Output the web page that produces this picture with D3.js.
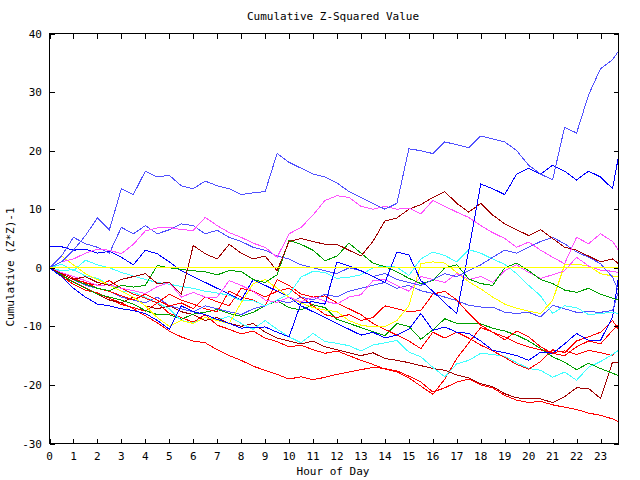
<!DOCTYPE html>
<html>
<head>
<meta charset="utf-8">
<script src="https://cdn.jsdelivr.net/npm/d3@7"></script>
<style>
  body { margin: 0; background: #fff; }
  svg { display: block; }
  text { font-family: "DejaVu Sans Mono", monospace; font-size: 11px; fill: #000; }
</style>
</head>
<body>
<svg id="plot" width="640" height="480"></svg>
<script>
// hour of day, half hour steps, last sample at 23:45
const hours = [0, 0.5, 1, 1.5, 2, 2.5, 3, 3.5, 4, 4.5, 5, 5.5, 6, 6.5, 7, 7.5, 8, 8.5, 9, 9.5,
  10, 10.5, 11, 11.5, 12, 12.5, 13, 13.5, 14, 14.5, 15, 15.5, 16, 16.5, 17, 17.5, 18, 18.5, 19, 19.5,
  20, 20.5, 21, 21.5, 22, 22.5, 23, 23.5, 23.75];

const xTicks = d3.range(0, 24);
const yTicks = [-30, -20, -10, 0, 10, 20, 30, 40];

// cumulative (z*z)-1 per station
const lbTop = [0, 1, 3, 5.5, 8.5, 6.5, 13.5, 12.5, 16.5, 15.5, 15.8, 14, 13.5, 14.8, 14, 13.5, 12.5, 12.8, 13, 19.5,
  18, 17, 16, 15.5, 14.5, 13, 12, 11, 10, 11, 20.3, 20, 19.5, 21.5, 21, 20.5, 22.5, 22, 21.5, 20,
  17.5, 16, 15, 24, 23, 29.5, 34, 35.5, 37];
const lbMid = [0, 2, 5.2, 4.1, 3.5, 2.5, 6.9, 5.8, 7.2, 5.8, 6.5, 7.5, 7.2, 5.8, 6.4, 5.2, 4.5, 3.5, 3, 2,
  1.5, 0.5, 0, -0.5, -1, 0, -0.5, -1.5, -1, -2, -2.5, -3, -2, -1, -1.5, -0.5, 0.5, 1.8, 3, 2.5,
  3.5, 4.5, 5.2, 4.1, 2.7, 1.8, 0.7, -1.6, -4];
const lbLow = [0, -1, -2, -3, -3.5, -4, -5, -5.5, -6, -5, -6.5, -7, -7.5, -6.5, -7, -7.5, -8, -7, -6.5, -5.5,
  -6, -5, -5.5, -4.5, -5, -4, -3.5, -3, -2.5, -3.5, -3, -3.9, -4.4, -5, -5.6, -6.4, -6.7, -6.7, -7.6, -7.8,
  -7.6, -8.4, -6.4, -7, -7.6, -7.5, -7.6, -7.3, -4];
const blueUp = [0, -1.5, -3.5, -5, -6.2, -6.5, -7, -7.3, -7.8, -9, -10.5, -6.5, -7.5, -8, -8.8, -9.5, -10.3, -10.2, -10.1, -11,
  -11.8, -6, -5.8, -6.2, 1, 0.3, -0.5, -1.5, -2.5, 2.7, 2.2, -2.2, -4, -6, -7.8, 3, 14.3, 13.5, 12.5, 16,
  17, 16, 17.5, 16.5, 15, 16.5, 15.5, 13.5, 19];
const blueHigh = [3.7, 3.6, 3, 3.2, 2.5, 2.8, 1.8, 0.5, 3, 2.4, 1, -0.5, -1.5, -2.5, -3.5, -4.5, -5.5, -2, -3, -4,
  -5, -6.5, -7.5, -8.5, -9.5, -10.5, -11.5, -11, -12, -11.5, -10.5, -7.8, -10.7, -10.1, -11, -11.2, -12.5, -14.1, -14.5, -15,
  -15.8, -14.4, -14.6, -13, -11.2, -12.4, -12.4, -8.4, -1.6];
const magUp = [0, 1, 1.5, 2.5, 3.2, 3, 2.4, 4, 6.3, 6.8, 6.9, 6.5, 6.4, 8.6, 7.2, 6, 5.2, 4.2, 3.5, 1.8,
  5.8, 6.9, 9, 11.5, 12.3, 12, 10.5, 10, 10.5, 10, 10.2, 9.2, 11.5, 10.5, 9.5, 8.6, 7.2, 6, 5, 3.5,
  4.4, 3, 1.8, 0.7, 5.2, 4.1, 5.8, 4.5, 3];
const magLow = [0, -0.8, -1.5, -2.2, -3, -2.9, -3.5, -3.9, -4.4, -3.2, -2.5, -5, -4.2, -5, -5, -2.2, -3, -4, -5.5, -5.9,
  -5, -5.8, -5, -5.7, -6.2, -5, -4.6, -2.2, -2, -3, -4, -1.5, -2, -2.5, -1, -2, -1.5, -2.5, -0.5, 0.5,
  -0.8, -1.8, -1.2, -0.5, 1.8, 0.3, -0.4, -0.6, -0.8];
const drUp = [0, -1, -2, -1.5, -2.5, -3, -2, -1.5, -1, -2.7, -2.5, -4.5, 3.8, 2.4, 1.5, 4, 2.5, 1.5, 2, -0.5,
  4.5, 5, 4.5, 4, 4, 3, 2, 4.5, 8, 8.5, 10, 10.8, 12, 13, 11, 9.5, 11, 9, 7.5, 6.5,
  5.5, 6.5, 5, 3.5, 3, 2, 1, 1.5, 0.7];
const drLow = [0, -1.3, -2.5, -3.5, -4.5, -5.5, -6, -5, -6.5, -7, -6.5, -7.5, -8, -9, -8.5, -9.5, -10, -9.5, -11, -12,
  -12.5, -13, -12.5, -13.5, -14, -14.5, -15, -14.5, -15.5, -15.8, -16.2, -16.7, -17.2, -17.5, -18.3, -18.8, -19.8, -20.3, -21.5, -22.2,
  -22.4, -22.4, -23, -22, -20.5, -20.6, -22.3, -16.1, -16.1];
const greenUp = [0, -1, -2, -2.8, -3.5, -3.9, -3, -3.3, -3, 0.4, 0, -0.3, -0.5, -0.7, -1.2, -0.5, -0.6, -2, -2.5, -1.2,
  4.7, 4, 3, 1.2, 2, 4.2, 2.5, 0.8, 0.2, -0.7, -1.8, -2.7, -2.2, 0, 0.5, -1.9, -2.7, -3, 0, 0.8,
  -0.5, -2, -2.7, -3.8, -4.2, -3.5, -4.5, -5.2, -5.5];
const greenLow = [0, -1.2, -2.5, -3.5, -4.5, -5, -5.5, -6.2, -7.3, -8, -8, -8.8, -7.9, -7.6, -7.1, -7.8, -8.3, -7.6, -6.5, -5.6,
  -6.8, -7.2, -6.3, -6.8, -8.8, -9.5, -10.2, -10.9, -11.6, -9.5, -10, -12.2, -10.6, -8.7, -9.5, -9.5, -9.6, -10.3, -10.8, -11.5,
  -12.5, -13.8, -15.2, -16.1, -17.4, -16.3, -17.2, -18, -18.4];
const redBottom = [0, -1.2, -2.4, -3.4, -4.4, -5.2, -6, -7, -8.2, -9.4, -10.8, -11.8, -12.5, -12.8, -14, -15, -15.8, -16.8, -17.5, -18.2,
  -19, -18.6, -19.1, -18.7, -18.2, -17.8, -17.4, -17, -17.2, -17.6, -18.5, -19.5, -21.2, -20.5, -19.5, -19, -20, -20.5, -21.8, -22.6,
  -23, -22.8, -23.4, -23.8, -24.2, -24.8, -25.2, -25.8, -26.3];
const redRise = [0, -1.5, -2.8, -3.8, -4.3, -5.2, -6.3, -6.8, -7.4, -6, -7.8, -8.5, -9.3, -8, -9.8, -10.5, -11.3, -10.8, -12, -12.6,
  -13.5, -13.2, -14, -14.6, -14.2, -15, -15.8, -16.5, -17.3, -17.8, -18.8, -20.2, -21.6, -19, -15.5, -12.8, -10.2, -11, -11.8, -12.8,
  -13.5, -14, -14.5, -14.2, -14.8, -14.1, -14.5, -15, -14];
const redMid = [0, -1, -2, -2.5, -3.5, -4, -4.8, -5.5, -4.5, -5.5, -6.5, -6, -7, -5, -5.8, -6.5, -3.5, -4, -5, -4,
  -3.5, -5, -6.5, -8, -8.5, -8, -9, -8.5, -6.5, -7, -7.5, -7.3, -4.5, -4, -5.5, -7.8, -9.8, -11, -12.3, -10.8,
  -11.8, -13.5, -14.6, -15, -13.5, -12.5, -13, -10.7, -9.8];
const redZig = [0, -0.8, -1.8, -2.6, -3, -2.2, -3.5, -4.5, -5.2, -6, -4.5, -5.5, -6.2, -7, -7.5, -4, -5, -5.5, -6.5, -2,
  -3, -4.5, -5, -4.8, -6, -7, -8, -9.5, -10.5, -11.5, -12.5, -13.8, -11, -12, -11, -12, -13.2, -14.2, -15.3, -16.5,
  -17.3, -16, -14, -14.5, -12.5, -11.8, -11, -9, -10.5];
const cyanLow = [0, -0.5, -0.3, -1.4, -1.8, -2.9, -4, -4.2, -5, -6, -7, -9, -9.4, -8.5, -8.9, -8.3, -9.5, -10.5, -9, -10.5,
  -11.8, -12.8, -11.2, -12.6, -12.9, -13.3, -14.2, -13.2, -12.8, -12.4, -14.4, -15.2, -17, -18.6, -16.4, -15.8, -14.6, -14.8, -15.1, -16.2,
  -17.2, -17.5, -18.7, -17.8, -19.2, -17, -16, -14.8, -14.1];
const cyanUp = [0, 0.6, -0.5, 1.3, 0.5, 0, -0.8, -1.4, -2, -2.5, -2.8, -3.2, -3.5, -4, -4.3, -4.7, -5.6, -5.6, -6.5, -5.5,
  -4.5, -1.6, -0.6, -0.8, -1.8, -1.6, -1.2, 0, 0.3, 0.1, -1.3, 1.5, 2.7, 2.1, 1, 3.1, 2.5, 1.5, 0.6, -1,
  -3, -4.8, -7.8, -6.5, -6.8, -8, -7.8, -7.6, -7.8];
const yellowZig = [0, 2, 0.5, -1, -2, -3, -4, -5, -6.5, -8.5, -10, -9, -9.5, -8.5, -9, -9.5, -6, -2.7, -2, -3.5,
  -5, -6, -6.8, -7.2, -7.5, -9, -9.8, -10.1, -10, -9, -6.5, 0.7, 1, 0.8, -0.8, -2.4, -3.6, -5, -6.2, -6.9,
  -7.4, -7.8, -5.6, 0.5, 0.6, 0.3, -1, -1.4, -1.6];
const yellowFlat = [0, 0, 0, 0, 0, 0, 0, 0, 0, 0, 0, 0, 0, 0, 0, 0, 0, 0, 0, 0,
  0, 0, 0, 0, 0, 0, 0, 0, 0, 0, 0, 0, 0, 0, 0, 0, 0, 0, 0, 0,
  0, 0, 0, 0, 0, 0, 0, 0, 0];

const series = [
  {values: redBottom, color: "#ff0000"},
  {values: redRise, color: "#ff0000"},
  {values: drLow, color: "#a00000"},
  {values: greenLow, color: "#00a000"},
  {values: cyanLow, color: "#40ffff"},
  {values: redZig, color: "#ff0000"},
  {values: blueHigh, color: "#0000ff"},
  {values: lbLow, color: "#5050ff"},
  {values: redMid, color: "#ff0000"},
  {values: cyanUp, color: "#40ffff"},
  {values: yellowZig, color: "#ffff00"},
  {values: magLow, color: "#ff50ff"},
  {values: greenUp, color: "#00a000"},
  {values: lbMid, color: "#5050ff"},
  {values: drUp, color: "#a00000"},
  {values: magUp, color: "#ff50ff"},
  {values: blueUp, color: "#0000ff"},
  {values: lbTop, color: "#5050ff"},
  {values: yellowFlat, color: "#ffff00"}
];

const svg = d3.select("#plot");
const plotLeft = 49.5, plotRight = 618.5, plotTop = 33.5, plotBottom = 443.5;

const x = d3.scaleLinear().domain([0, 23.75]).range([plotLeft, plotRight]);
const y = d3.scaleLinear().domain([-30, 40]).range([plotBottom, plotTop]);

const line = d3.line()
  .x(function(d, i) { return x(hours[i]); })
  .y(function(d) { return y(d); });

svg.selectAll("path.series")
  .data(series)
  .enter()
  .append("path")
    .attr("class", "series")
    .attr("d", function(d) { return line(d.values); })
    .attr("fill", "none")
    .attr("stroke", function(d) { return d.color; })
    .attr("stroke-width", 1)
    .attr("shape-rendering", "crispEdges");

// frame
svg.append("rect")
  .attr("x", plotLeft).attr("y", plotTop)
  .attr("width", plotRight - plotLeft).attr("height", plotBottom - plotTop)
  .attr("fill", "none").attr("stroke", "#000")
  .attr("shape-rendering", "crispEdges");

// ticks, inward on all four sides
const tickLen = 5;
xTicks.forEach(function(t) {
  const xx = Math.round(x(t)) + 0.5;
  svg.append("line")
    .attr("x1", xx).attr("x2", xx)
    .attr("y1", plotBottom).attr("y2", plotBottom - tickLen)
    .attr("stroke", "#000").attr("shape-rendering", "crispEdges");
  svg.append("line")
    .attr("x1", xx).attr("x2", xx)
    .attr("y1", plotTop).attr("y2", plotTop + tickLen)
    .attr("stroke", "#000").attr("shape-rendering", "crispEdges");
  svg.append("text")
    .attr("x", x(t))
    .attr("y", 460)
    .attr("text-anchor", "middle")
    .text(t);
});

yTicks.forEach(function(t) {
  const yy = Math.round(y(t)) + 0.5;
  svg.append("line")
    .attr("x1", plotLeft).attr("x2", plotLeft + tickLen)
    .attr("y1", yy).attr("y2", yy)
    .attr("stroke", "#000").attr("shape-rendering", "crispEdges");
  svg.append("line")
    .attr("x1", plotRight).attr("x2", plotRight - tickLen)
    .attr("y1", yy).attr("y2", yy)
    .attr("stroke", "#000").attr("shape-rendering", "crispEdges");
  svg.append("text")
    .attr("x", 42)
    .attr("y", y(t) + 4)
    .attr("text-anchor", "end")
    .text(t);
});

// titles
svg.append("text")
  .attr("x", 333)
  .attr("y", 20)
  .attr("text-anchor", "middle")
  .text("Cumulative Z-Squared Value");

svg.append("text")
  .attr("x", 333)
  .attr("y", 475)
  .attr("text-anchor", "middle")
  .text("Hour of Day");

svg.append("text")
  .attr("transform", "translate(14,267) rotate(-90)")
  .attr("text-anchor", "middle")
  .text("Cumulative (Z*Z)-1");
</script>
</body>
</html>
